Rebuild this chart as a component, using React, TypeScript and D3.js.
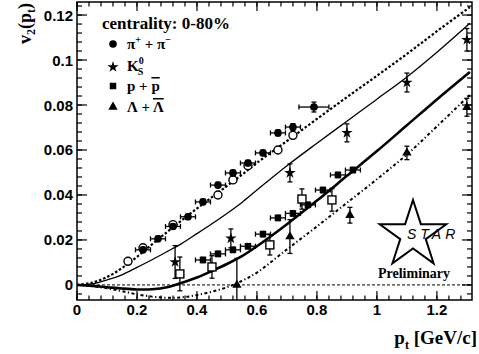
import React from 'react';
import * as d3 from 'd3';

const W = 479, H = 354;

// Axis ticks
const xMajor = [0, 0.2, 0.4, 0.6, 0.8, 1.0, 1.2];
const xLabels = ['0', '0.2', '0.4', '0.6', '0.8', '1', '1.2'];
const yMajor = [0, 0.02, 0.04, 0.06, 0.08, 0.1, 0.12];
const yLabels = ['0', '0.02', '0.04', '0.06', '0.08', '0.1', '0.12'];

// Hydro model curves (pt grid shared)
const curvePt = [0, 0.05, 0.1, 0.15, 0.2, 0.25, 0.3, 0.35, 0.4, 0.45, 0.5, 0.55, 0.6, 0.7, 0.8, 0.9, 1.0, 1.1, 1.2, 1.31];
const pionHydro = [0, 0.001, 0.0035, 0.0075, 0.0125, 0.018, 0.0235, 0.0288, 0.034, 0.039, 0.044, 0.049, 0.0543, 0.064, 0.0738, 0.0835, 0.093, 0.1027, 0.1128, 0.1235];
const kaonHydro = [0, 0.0005, 0.0022, 0.0045, 0.0078, 0.0112, 0.0148, 0.0185, 0.0228, 0.0272, 0.0318, 0.0367, 0.0422, 0.053, 0.063, 0.0728, 0.0826, 0.0925, 0.1035, 0.1164];
const protonHydro = [0, -0.0004, -0.001, -0.0016, -0.002, -0.0019, -0.001, 0.001, 0.0033, 0.0062, 0.0093, 0.0128, 0.0172, 0.027, 0.0375, 0.0485, 0.0595, 0.071, 0.0825, 0.0947];
const lambdaHydro = [0, -0.0005, -0.0015, -0.0028, -0.0042, -0.0052, -0.0057, -0.0055, -0.0045, -0.003, -0.001, 0.0018, 0.0055, 0.0158, 0.026, 0.0365, 0.047, 0.058, 0.0705, 0.0845];

// Data: pions (filled)
const pionPt = [0.22, 0.27, 0.32, 0.37, 0.42, 0.47, 0.52, 0.57, 0.62, 0.67, 0.72, 0.79];
const pionV2 = [0.0156, 0.0205, 0.026, 0.0303, 0.0369, 0.0444, 0.0498, 0.0542, 0.0587, 0.0676, 0.0702, 0.0791];
const pionEx = [0.025, 0.025, 0.025, 0.025, 0.025, 0.025, 0.025, 0.025, 0.025, 0.025, 0.025, 0.05];
const pionEy = [0.0012, 0.0012, 0.0012, 0.0012, 0.0012, 0.0012, 0.0012, 0.0012, 0.0012, 0.0013, 0.0015, 0.0022];
// pions (open)
const pionOpenPt = [0.17, 0.22, 0.32, 0.47, 0.52, 0.57, 0.67, 0.72];
const pionOpenV2 = [0.0105, 0.0165, 0.0268, 0.040, 0.0467, 0.053, 0.060, 0.0665];
// K0s
const kaonPt = [0.327, 0.513, 0.71, 0.90, 1.10, 1.30];
const kaonV2 = [0.0102, 0.0207, 0.0498, 0.0676, 0.090, 0.109];
const kaonEy = [0.0073, 0.0042, 0.004, 0.004, 0.0042, 0.005];
// protons (filled)
const protonPt = [0.42, 0.47, 0.52, 0.57, 0.62, 0.67, 0.72, 0.77, 0.82, 0.87, 0.92];
const protonV2 = [0.0111, 0.0138, 0.0156, 0.0172, 0.0226, 0.0298, 0.0318, 0.0356, 0.0422, 0.0489, 0.0511];
// anti-protons / open squares
const pbarPt = [0.343, 0.45, 0.643, 0.75, 0.85];
const pbarV2 = [0.0049, 0.008, 0.0178, 0.0382, 0.0378];
const pbarEy = [0.0075, 0.005, 0.0045, 0.0045, 0.005];
// Lambda
const lambdaPt = [0.533, 0.71, 0.91, 1.10, 1.30];
const lambdaV2 = [0.0, 0.0215, 0.031, 0.0587, 0.079];
const lambdaEy = [0.0118, 0.0075, 0.0035, 0.003, 0.004];

const L = 77, R = 472, T = 2, B = 300;
const x = d3.scaleLinear().domain([0, 1.317]).range([L, R]);
const y = d3.scaleLinear().domain([-0.0067, 0.1258]).range([B, T]);

const serif = '"Liberation Serif", "Times New Roman", serif';
const sans = '"Liberation Sans", Arial, sans-serif';

function curvePath(vals: number[]) {
  const line = d3.line<number>()
    .x((_, i) => x(curvePt[i]))
    .y((d) => y(d))
    .curve(d3.curveCatmullRom.alpha(0.5));
  return line(vals) || '';
}

function sym(type: d3.SymbolType, size: number) {
  return d3.symbol().type(type).size(size)() || '';
}

function ErrX({ cx, cy, ex }: { cx: number; cy: number; ex: number }) {
  const x0 = x(cx - ex), x1 = x(cx + ex), py = y(cy);
  return (
    <g stroke="#000" strokeWidth={1.3}>
      <line x1={x0} x2={x1} y1={py} y2={py} />
      <line x1={x0} x2={x0} y1={py - 2.5} y2={py + 2.5} />
      <line x1={x1} x2={x1} y1={py - 2.5} y2={py + 2.5} />
    </g>
  );
}
function ErrY({ cx, cy, ey }: { cx: number; cy: number; ey: number }) {
  const px = x(cx), y0 = y(cy - ey), y1 = y(cy + ey);
  return (
    <g stroke="#000" strokeWidth={1.3}>
      <line x1={px} x2={px} y1={y0} y2={y1} />
      <line x1={px - 2.5} x2={px + 2.5} y1={y0} y2={y0} />
      <line x1={px - 2.5} x2={px + 2.5} y1={y1} y2={y1} />
    </g>
  );
}

export default function App() {
  const xMinor = d3.range(0, 1.3, 0.04);
  const yMinor = d3.range(-0.004, 0.1255, 0.004);

  // STAR logo star outline
  const cx = 413, cy = 235, Ro = 35, Ri = 13.4;
  const starPts: [number, number][] = d3.range(10).map((i) => {
    const a = (i * Math.PI) / 5;
    const r = i % 2 === 0 ? Ro : Ri;
    return [cx + r * Math.sin(a), cy - r * Math.cos(a)];
  });
  const starPath = (d3.line()(starPts) || '') + 'Z';

  const circ = sym(d3.symbolCircle, 46);
  const starS = sym(d3.symbolStar, 40);
  const sq = sym(d3.symbolSquare, 42);
  const tri = sym(d3.symbolTriangle, 38);

  return (
    <svg width={W} height={H} style={{ position: 'absolute', left: 0, top: 0, background: '#fff' }}>
      <defs>
        <clipPath id="plot">
          <rect x={L} y={T} width={R - L} height={B - T} />
        </clipPath>
      </defs>

      {/* zero line */}
      <line x1={L} x2={R} y1={y(0)} y2={y(0)} stroke="#000" strokeWidth={1} strokeDasharray="3,2" />

      <g clipPath="url(#plot)" fill="none" stroke="#000">
        <path d={curvePath(pionHydro)} strokeWidth={2.2} strokeDasharray="2.5,2" />
        <path d={curvePath(kaonHydro)} strokeWidth={1.3} />
        <path d={curvePath(protonHydro)} strokeWidth={2.6} />
        <path d={curvePath(lambdaHydro)} strokeWidth={2} strokeDasharray="3,2.5,1.2,2.5" />
      </g>

      <g clipPath="url(#plot)">
        {/* open pions */}
        {pionOpenPt.map((p, i) => (
          <g key={'po' + i}>
            <ErrY cx={p} cy={pionOpenV2[i]} ey={0.0012} />
            <circle cx={x(p)} cy={y(pionOpenV2[i])} r={4} fill="#fff" stroke="#000" strokeWidth={1.4} />
          </g>
        ))}
        {/* filled pions */}
        {pionPt.map((p, i) => (
          <g key={'p' + i}>
            <ErrX cx={p} cy={pionV2[i]} ex={pionEx[i]} />
            <ErrY cx={p} cy={pionV2[i]} ey={pionEy[i]} />
            <path d={circ} transform={`translate(${x(p)},${y(pionV2[i])})`} fill="#000" />
          </g>
        ))}
        {/* protons */}
        {protonPt.map((p, i) => (
          <g key={'pr' + i}>
            <ErrX cx={p} cy={protonV2[i]} ex={0.025} />
            <ErrY cx={p} cy={protonV2[i]} ey={0.0012} />
            <path d={sq} transform={`translate(${x(p)},${y(protonV2[i])})`} fill="#000" />
          </g>
        ))}
        {/* open squares */}
        {pbarPt.map((p, i) => (
          <g key={'pb' + i}>
            <ErrY cx={p} cy={pbarV2[i]} ey={pbarEy[i]} />
            <rect x={x(p) - 4} y={y(pbarV2[i]) - 4} width={8} height={8} fill="#fff" stroke="#000" strokeWidth={1.4} />
          </g>
        ))}
        {/* kaons */}
        {kaonPt.map((p, i) => (
          <g key={'k' + i}>
            <ErrY cx={p} cy={kaonV2[i]} ey={kaonEy[i]} />
            <path d={starS} transform={`translate(${x(p)},${y(kaonV2[i])})`} fill="#000" />
          </g>
        ))}
        {/* lambdas */}
        {lambdaPt.map((p, i) => (
          <g key={'l' + i}>
            <ErrY cx={p} cy={lambdaV2[i]} ey={lambdaEy[i]} />
            <path d={tri} transform={`translate(${x(p)},${y(lambdaV2[i])})`} fill="#000" />
          </g>
        ))}
      </g>

      {/* frame */}
      <rect x={L} y={T} width={R - L} height={B - T} fill="none" stroke="#000" strokeWidth={1.5} />

      {/* ticks */}
      <g stroke="#000" strokeWidth={1.2}>
        {xMajor.map((v) => (
          <g key={'xM' + v}>
            <line x1={x(v)} x2={x(v)} y1={B} y2={B - 9} />
            <line x1={x(v)} x2={x(v)} y1={T} y2={T + 9} />
          </g>
        ))}
        {xMinor.map((v, i) => (
          <g key={'xm' + i}>
            <line x1={x(v)} x2={x(v)} y1={B} y2={B - 4.5} />
            <line x1={x(v)} x2={x(v)} y1={T} y2={T + 4.5} />
          </g>
        ))}
        {yMajor.map((v) => (
          <g key={'yM' + v}>
            <line x1={L} x2={L + 10} y1={y(v)} y2={y(v)} />
            <line x1={R} x2={R - 10} y1={y(v)} y2={y(v)} />
          </g>
        ))}
        {yMinor.map((v, i) => (
          <g key={'ym' + i}>
            <line x1={L} x2={L + 5} y1={y(v)} y2={y(v)} />
            <line x1={R} x2={R - 5} y1={y(v)} y2={y(v)} />
          </g>
        ))}
      </g>

      {/* tick labels */}
      <g fontFamily={sans} fontWeight="bold" fontSize={15} fill="#000">
        {xMajor.map((v, i) => (
          <text key={'xl' + i} x={x(v)} y={315} textAnchor="middle">{xLabels[i]}</text>
        ))}
        {yMajor.map((v, i) => (
          <text key={'yl' + i} x={73} y={y(v) + 5.5} textAnchor="end">{yLabels[i]}</text>
        ))}
      </g>

      {/* axis titles */}
      <text x={477} y={344} textAnchor="end" fontFamily={serif} fontWeight="bold" fontSize={19}>
        p<tspan fontSize={12} dy={5}>t</tspan><tspan dy={-5}> [GeV/c]</tspan>
      </text>
      <text transform="translate(31,44) rotate(-90)" textAnchor="start" fontFamily={serif} fontWeight="bold" fontSize={18}>
        v<tspan fontSize={12} dy={4}>2</tspan><tspan dy={-4}>(p</tspan><tspan fontSize={12} dy={4}>t</tspan><tspan dy={-4}>)</tspan>
      </text>

      {/* legend */}
      <g fontFamily={serif} fontWeight="bold" fill="#000">
        <text x={102} y={29} fontSize={17}>centrality: 0-80%</text>
        <path d={circ} transform="translate(113,44)" />
        <text x={127} y={49} fontSize={15}>
          π<tspan fontSize={10} dy={-6}>+</tspan><tspan dy={6}> + π</tspan><tspan fontSize={10} dy={-6}>−</tspan>
        </text>
        <path d={starS} transform="translate(113,67)" />
        <text x={127} y={71} fontSize={15}>
          K<tspan fontSize={10} dy={-7}>0</tspan><tspan fontSize={10} dx={-6} dy={11}>S</tspan>
        </text>
        <path d={sq} transform="translate(113,86)" />
        <text x={127} y={91} fontSize={15}>
          p + <tspan style={{ textDecoration: 'overline' }}>p</tspan>
        </text>
        <path d={tri} transform="translate(113,107)" />
        <text x={127} y={112} fontSize={15}>
          Λ + <tspan style={{ textDecoration: 'overline' }}>Λ</tspan>
        </text>
      </g>

      {/* STAR logo */}
      <path d={starPath} fill="none" stroke="#000" strokeWidth={2} strokeLinejoin="miter" />
      <text x={407} y={239} fontFamily={sans} fontStyle="italic" fontSize={14} letterSpacing={4}>STAR</text>
      <text x={378} y={278} fontFamily={serif} fontWeight="bold" fontSize={14}>Preliminary</text>
    </svg>
  );
}
